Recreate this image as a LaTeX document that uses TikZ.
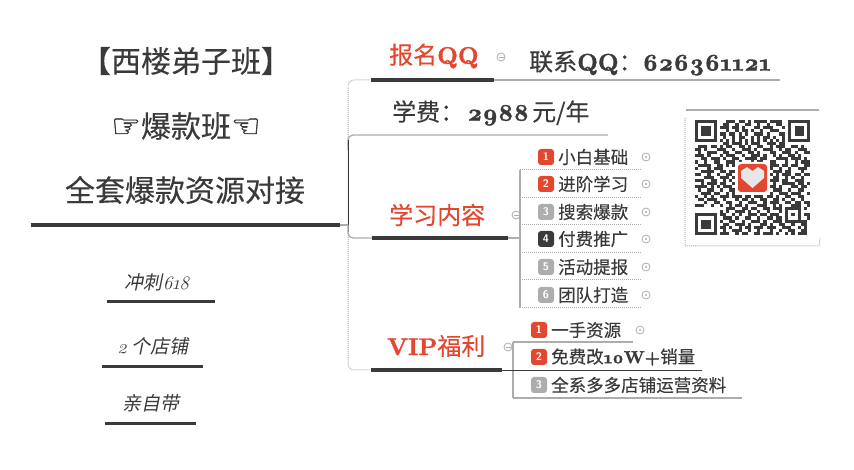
\documentclass[tikz,border=0pt]{standalone}
\usepackage{fontspec}
\newfontfamily\cjk[FakeBold=0.3]{Noto Sans CJK SC}
\newfontfamily\cjkslant[FakeSlant=0.2]{Noto Sans CJK SC}
\newfontfamily\lat[Numbers=OldStyle]{Latin Modern Roman}
\newfontfamily\latb[Numbers=OldStyle,Extension=.otf,FakeBold=1.5]{lmroman10-bold}
\newfontfamily\handfont[FakeBold=1.2]{DejaVu Sans}
\definecolor{inkdark}{HTML}{3A3A3A}
\definecolor{inkred}{HTML}{E4472F}
\definecolor{inkgrey}{HTML}{ADADAD}
\newcommand{\num}[1]{{\latb #1}}
\newcommand{\hand}[1]{{\handfont\fontsize{33bp}{30bp}\selectfont #1}}
\newcommand{\qrrow}[2]{\foreach \qc/\qn in {#2} {\fill [inkdark] (\qc,#1) rectangle ++(\qn,1);}}
\tikzset{
  title/.style={text=inkdark,inner sep=0,font=\cjk\fontsize{30bp}{36bp}\selectfont},
  branch/.style={text=inkred,inner sep=0,anchor=west,font=\cjk\fontsize{24bp}{28bp}\selectfont},
  plain/.style={text=inkdark,inner sep=0,anchor=west,font=\cjk\fontsize{24bp}{28bp}\selectfont},
  item/.style={text=inkdark,inner sep=0,anchor=west,font=\cjk\fontsize{17.5bp}{20bp}\selectfont},
  side/.style={text=inkdark,inner sep=0,font=\cjkslant\fontsize{19bp}{22bp}\selectfont},
  badge/.style={rounded corners=3bp,minimum size=16bp,inner sep=0,text=white,font=\sffamily\bfseries\fontsize{11bp}{11bp}\selectfont},
  opennode/.style={circle,draw=inkgrey,line width=.8bp,minimum size=8bp,inner sep=0,
    path picture={\fill[inkgrey] (path picture bounding box.center) circle (1.2bp);}},
  closenode/.style={circle,draw=inkgrey,line width=.8bp,minimum size=8bp,inner sep=0,
    path picture={\draw[inkgrey,line width=.8bp] ([xshift=-2.5bp]path picture bounding box.center) -- ([xshift=2.5bp]path picture bounding box.center);}},
  heavy/.style={inkdark,line width=3.2bp},
  greyline/.style={inkgrey,line width=1.3bp},
  dotline/.style={inkgrey,line width=1bp,densely dotted},
}
\begin{document}
\begin{tikzpicture}[x=1bp,y=1bp,line join=bevel]
\useasboundingbox (0bp,0bp) rectangle (854bp,470bp);
%% left column
\node (banner) at (186bp,409bp) [title] {【西楼弟子班】};
\node (hotclass) at (186bp,344bp) [title] {\hand{☞}爆款班\hand{☜}};
\node (dock) at (185bp,280bp) [title] {全套爆款资源对接};
\node (rush) at (157bp,188bp) [side] {冲刺{\lat\itshape 618}};
\node (stores) at (153bp,124bp) [side] {{\lat\itshape 2} 个店铺};
\node (personal) at (151bp,67bp) [side] {亲自带};
%% branches
\node (signup) at (389bp,414bp) [branch] {报名\num{QQ}};
\node (contact) at (529bp,407bp) [plain] {联系\num{QQ}：\num{626361121}};
\node (fee) at (392bp,357bp) [plain] {学费：\hspace{3bp}\num{2988}\hspace{3bp}元/年};
\node (study) at (389bp,255bp) [branch] {学习内容};
\node (vip) at (387bp,124bp) [branch] {\num{VIP}福利};
%% study items
\node (badgeA) at (546bp,313bp) [badge,fill=inkred] {1};
\node (stepA) at (558bp,313bp) [item] {小白基础};
\node (badgeB) at (546bp,286bp) [badge,fill=inkred] {2};
\node (stepB) at (558bp,286bp) [item] {进阶学习};
\node (badgeC) at (546bp,258bp) [badge,fill=inkgrey] {3};
\node (stepC) at (558bp,258bp) [item] {搜索爆款};
\node (badgeD) at (546bp,231bp) [badge,fill=inkdark] {4};
\node (stepD) at (558bp,231bp) [item] {付费推广};
\node (badgeE) at (546bp,203bp) [badge,fill=inkgrey] {5};
\node (stepE) at (558bp,203bp) [item] {活动提报};
\node (badgeF) at (546bp,175bp) [badge,fill=inkgrey] {6};
\node (stepF) at (558bp,175bp) [item] {团队打造};
\node (openA) at (646bp,313bp) [opennode] {};
\node (openB) at (646bp,286bp) [opennode] {};
\node (openC) at (646bp,258bp) [opennode] {};
\node (openD) at (646bp,231bp) [opennode] {};
\node (openE) at (646bp,203bp) [opennode] {};
\node (openF) at (646bp,175bp) [opennode] {};
%% vip items
\node (badgeG) at (539bp,140bp) [badge,fill=inkred] {1};
\node (perkA) at (551bp,140bp) [item] {一手资源};
\node (badgeH) at (539bp,113bp) [badge,fill=inkred] {2};
\node (perkB) at (551bp,113bp) [item] {免费改\num{10W+}销量};
\node (badgeI) at (539bp,85bp) [badge,fill=inkgrey] {3};
\node (perkC) at (551bp,85bp) [item] {全系多多店铺运营资料};
\node (openG) at (640bp,140bp) [opennode] {};
\node (closeA) at (501bp,413bp) [closenode] {};
\node (closeB) at (516bp,255bp) [closenode] {};
\node (closeC) at (508bp,123bp) [closenode] {};
%% junction points
\coordinate (rootL) at (31bp,245bp);
\coordinate (rootR) at (340bp,245bp);
\coordinate (trunk) at (348bp,245bp);
\coordinate (signupL) at (371bp,390bp);
\coordinate (signupR) at (494bp,390bp);
\coordinate (signupEnd) at (780bp,390bp);
\coordinate (feeStart) at (348bp,320bp);
\coordinate (feeEnd) at (608bp,335bp);
\coordinate (darkTop) at (348bp,330bp);
\coordinate (darkBot) at (348bp,238bp);
\coordinate (studyL) at (372bp,232bp);
\coordinate (studyR) at (508bp,232bp);
\coordinate (studyFork) at (520bp,232bp);
\coordinate (vipL) at (371bp,100bp);
\coordinate (vipR) at (502bp,100bp);
\coordinate (vipEnd) at (702bp,100bp);
\coordinate (rowA) at (520bp,300bp);
\coordinate (rowAEnd) at (640bp,300bp);
\coordinate (rowB) at (520bp,272.5bp);
\coordinate (rowBEnd) at (640bp,272.5bp);
\coordinate (rowC) at (520bp,245bp);
\coordinate (rowCEnd) at (640bp,245bp);
\coordinate (rowD) at (520bp,217.5bp);
\coordinate (rowDEnd) at (640bp,217.5bp);
\coordinate (rowE) at (520bp,190bp);
\coordinate (rowEEnd) at (640bp,190bp);
\coordinate (rowF) at (520bp,162bp);
\coordinate (rowFEnd) at (640bp,162bp);
\coordinate (perkTop) at (513bp,128bp);
\coordinate (perkTopEnd) at (633bp,128bp);
\coordinate (perkBot) at (513bp,72bp);
\coordinate (perkBotEnd) at (742bp,72bp);
%% connectors
\draw [greyline] (rootR) -- (trunk);
\draw [dotline,rounded corners=6bp] (trunk) |- (signupL);
\draw [greyline] (signupR) -- (signupEnd);
\draw [greyline,rounded corners=5bp] (feeStart) |- (feeEnd);
\draw [inkdark,line width=1bp] (darkTop) -- (darkBot);
\draw [greyline,rounded corners=5bp] (trunk) |- (studyL);
\draw [greyline] (studyR) -- (studyFork);
\draw [dotline,rounded corners=6bp] (trunk) |- (vipL);
\draw [greyline] (rowA) -- (rowF);
\draw [dotline] (rowA) -- (rowAEnd);
\draw [dotline] (rowB) -- (rowBEnd);
\draw [dotline] (rowC) -- (rowCEnd);
\draw [dotline] (rowD) -- (rowDEnd);
\draw [dotline] (rowE) -- (rowEEnd);
\draw [dotline] (rowF) -- (rowFEnd);
\draw [greyline] (perkTop) -- (perkBot);
\draw [greyline] (perkTop) -- (perkTopEnd);
\draw [inkdark,line width=.8bp] (vipR) -- (vipEnd);
\draw [greyline,line width=1.8bp] (perkBot) -- (perkBotEnd);
%% heavy underlines
\draw [heavy,line width=4.2bp] (rootL) -- (rootR);
\draw [heavy] (signupL) -- (signupR);
\draw [heavy] (studyL) -- (studyR);
\draw [heavy] (vipL) -- (vipR);
\draw [heavy,line width=2.6bp] (107bp,168.5bp) -- (215bp,168.5bp);
\draw [heavy,line width=2.6bp] (102bp,103.5bp) -- (203bp,103.5bp);
\draw [heavy,line width=2.6bp] (105bp,46.5bp) -- (196bp,46.5bp);
%% qr frame
\draw [greyline,line width=2bp] (686bp,360bp) -- (819bp,360bp);
\draw [dotline] (685bp,352bp) -- (685bp,224bp) -- (819bp,224bp) -- (820bp,232bp);
%% qr code, rows as column/length runs
\begin{scope}[shift={(695bp,350bp)},x=3.11bp,y=-3.11bp]
\qrrow{0}{0/7,10/3,14/2,17/1,19/4,24/4,30/7}
\qrrow{1}{0/1,6/1,9/2,13/1,16/2,20/1,23/1,26/2,30/1,36/1}
\qrrow{2}{0/1,2/3,6/1,8/3,12/2,15/1,19/2,22/3,28/1,30/1,32/3,36/1}
\qrrow{3}{0/1,2/3,6/1,10/1,13/1,15/2,18/1,21/1,24/3,30/1,32/3,36/1}
\qrrow{4}{0/1,2/3,6/1,8/2,11/2,14/1,16/1,19/3,23/1,27/2,30/1,32/3,36/1}
\qrrow{5}{0/1,6/1,9/1,12/1,14/2,18/1,20/1,22/2,25/1,28/1,30/1,36/1}
\qrrow{6}{0/7,8/1,10/1,12/1,14/1,16/1,18/1,20/1,22/1,24/1,26/1,28/1,30/7}
\qrrow{7}{9/2,12/3,16/1,18/3,23/3,27/2}
\qrrow{8}{1/3,5/2,8/1,10/2,14/2,17/1,20/2,24/1,26/3,31/2,34/1}
\qrrow{9}{0/2,3/1,7/3,12/1,15/3,19/1,22/3,27/1,29/2,33/3}
\qrrow{10}{1/1,4/2,6/1,9/2,13/2,17/2,20/1,24/2,28/3,32/1,35/2}
\qrrow{11}{0/3,4/1,8/1,10/3,15/1,18/3,22/1,25/1,27/1,30/2,33/1}
\qrrow{12}{2/2,5/3,9/1,12/2,16/4,21/2,26/4,31/3,35/1}
\qrrow{13}{0/1,3/1,6/2,10/3,14/1,18/1,20/2,24/2,29/1,32/1,34/3}
\qrrow{14}{1/4,7/2,10/1,12/1,24/3,28/2,31/2,35/2}
\qrrow{15}{0/1,4/1,6/3,24/1,27/1,30/1,33/3}
\qrrow{16}{2/4,8/2,11/2,25/3,29/2,34/1}
\qrrow{17}{0/2,4/1,7/1,10/2,24/1,26/1,28/3,32/2,35/2}
\qrrow{18}{3/3,8/3,12/1,25/2,29/1,31/1,34/1}
\qrrow{19}{0/3,5/2,9/1,11/1,24/3,28/2,32/3}
\qrrow{20}{2/1,4/3,8/2,12/1,25/1,28/4,33/2,36/1}
\qrrow{21}{0/4,5/1,7/1,9/3,24/2,27/1,31/2,34/2}
\qrrow{22}{1/1,4/2,8/1,11/2,25/3,30/1,33/2}
\qrrow{23}{2/3,6/2,10/1,12/1,24/1,27/3,31/3,36/1}
\qrrow{24}{0/1,3/1,5/1,8/3,12/3,16/2,19/3,23/2,26/1,29/2,33/2}
\qrrow{25}{1/2,4/3,9/1,13/1,15/2,18/1,21/2,25/2,28/1,31/1,34/1}
\qrrow{26}{3/1,6/2,10/2,14/1,17/3,22/1,24/3,29/2,32/2,35/2}
\qrrow{27}{0/3,5/1,8/1,11/1,13/2,16/1,20/3,25/1,27/1,31/3,36/1}
\qrrow{28}{10/2,12/1,15/2,18/2,22/2,25/3,29/5,35/1}
\qrrow{29}{8/1,10/1,13/3,17/1,20/1,23/1,27/1,29/1,33/1}
\qrrow{30}{0/7,8/2,12/1,14/1,17/3,21/2,24/3,29/1,31/1,33/1,35/2}
\qrrow{31}{0/1,6/1,9/3,13/1,16/2,20/1,23/2,26/2,29/1,33/1,36/1}
\qrrow{32}{0/1,2/3,6/1,8/1,11/2,15/1,18/3,22/1,25/3,29/5,34/2}
\qrrow{33}{0/1,2/3,6/1,9/2,13/3,17/1,21/2,24/1,27/2,31/1,34/2}
\qrrow{34}{0/1,2/3,6/1,8/2,11/1,14/1,16/2,19/3,23/3,28/3,33/1,35/1}
\qrrow{35}{0/1,6/1,9/1,12/3,17/1,20/1,24/1,27/1,30/2,34/2}
\qrrow{36}{0/7,8/3,13/1,15/2,19/2,22/3,26/1,29/1,31/1,33/3}
\end{scope}
%% qr logo
\fill [white,rounded corners=3bp] (736bp,308bp) rectangle (769bp,276bp);
\fill [inkred,rounded corners=3bp] (738bp,306bp) rectangle (767bp,278bp);
\fill [white!70!inkgrey] (752.5bp,282bp) -- (741bp,292bp) -- (741bp,299bp) -- (747bp,303bp) -- (752.5bp,299bp) -- (758bp,303bp) -- (764bp,299bp) -- (764bp,292bp) -- cycle;
\end{tikzpicture}
\end{document}
